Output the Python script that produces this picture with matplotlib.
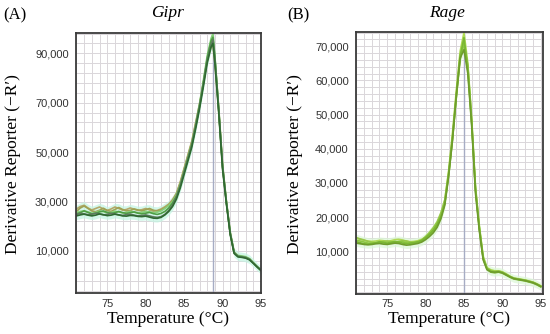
import matplotlib
matplotlib.use("Agg")
import matplotlib.pyplot as plt
import numpy as np
from matplotlib.ticker import MultipleLocator, FixedLocator, FuncFormatter

# ---------------- data (values in thousands of -R') ----------------
temp_a = [71, 71.5, 72, 72.5, 73, 73.5, 74, 74.5, 75, 75.5, 76, 76.5, 77, 77.5,
          78, 78.5, 79, 79.5, 80, 80.5, 81, 81.5, 82, 82.5, 83, 83.5, 84, 84.5,
          85, 85.5, 86, 86.5, 87, 87.5, 88, 88.5, 88.75, 89, 89.5, 90, 90.5, 91,
          91.5, 92, 92.5, 93, 93.5, 94, 94.5, 95]

gipr_1 = [24.2, 24.6, 24.9, 24.5, 24.2, 24.5, 25.0, 24.7, 24.3, 24.5, 24.9, 24.6, 24.2, 24.1,
          24.4, 24.3, 24.0, 23.9, 24.1, 23.7, 23.3, 23.2, 23.6, 24.6, 26.0, 28.0, 31.0, 35.5,
          41.0, 46.5, 52.0, 59.5, 67.5, 76.5, 86.0, 92.5, 94.0, 86.0, 66.0, 43.0, 29.0, 16.5,
          9.0, 7.6, 7.4, 7.1, 6.4, 5.0, 3.5, 2.1]
gipr_2 = [24.8, 25.2, 25.0, 24.7, 24.9, 25.3, 25.0, 24.6, 24.8, 25.2, 25.0, 24.6, 24.4, 24.7,
          24.9, 24.5, 24.2, 24.3, 24.6, 24.2, 23.8, 23.6, 23.9, 24.8, 26.4, 28.6, 31.8, 36.5,
          42.0, 47.5, 53.0, 60.5, 68.5, 77.5, 87.0, 93.5, 95.5, 87.5, 67.0, 44.0, 29.5, 17.0,
          9.3, 7.8, 7.6, 7.3, 6.6, 5.1, 3.6, 2.2]
gipr_3 = [26.0, 27.4, 28.2, 27.2, 26.2, 25.9, 26.5, 27.3, 26.4, 26.0, 26.8, 27.6, 26.8, 26.2,
          26.4, 27.0, 26.6, 26.2, 26.7, 27.2, 26.5, 26.2, 26.6, 27.4, 28.6, 30.4, 33.0, 37.5,
          43.0, 48.5, 54.0, 61.5, 69.0, 78.0, 87.5, 94.0, 96.0, 88.0, 68.0, 45.0, 30.0, 17.5,
          9.6, 8.0, 7.8, 7.5, 6.8, 5.2, 3.6, 2.2]
gipr_4 = [25.5, 26.0, 26.3, 25.8, 25.3, 25.6, 26.2, 25.9, 25.4, 25.6, 26.1, 25.8, 25.4, 25.6,
          26.0, 25.7, 25.4, 25.6, 26.0, 25.8, 25.5, 25.7, 26.2, 27.2, 28.4, 30.0, 32.6, 37.0,
          42.5, 48.0, 53.5, 61.0, 69.5, 79.0, 89.0, 96.0, 98.0, 89.0, 67.5, 44.5, 30.0, 17.2,
          9.5, 8.2, 8.0, 7.7, 6.9, 5.3, 3.7, 2.3]
gipr_5 = [25.0, 25.5, 26.2, 25.6, 25.0, 25.2, 25.8, 26.2, 25.6, 25.2, 25.5, 26.0, 25.5, 25.2,
          25.5, 25.8, 25.3, 25.0, 25.3, 25.6, 25.1, 24.8, 25.2, 26.0, 27.4, 29.4, 32.2, 36.5,
          42.0, 47.5, 53.0, 60.5, 68.5, 78.0, 88.0, 95.0, 96.5, 88.5, 67.0, 44.0, 29.5, 17.0,
          9.3, 7.9, 7.7, 7.4, 6.7, 5.1, 3.6, 2.2]
gipr_6 = [27.0, 28.0, 28.5, 27.4, 26.6, 27.2, 27.8, 27.0, 26.4, 27.0, 27.8, 27.2, 26.5, 26.8,
          27.4, 26.9, 26.4, 26.7, 27.2, 26.6, 26.1, 26.4, 27.0, 27.9, 29.0, 30.8, 33.4, 38.0,
          43.5, 49.0, 54.5, 62.0, 69.5, 78.0, 87.0, 92.5, 93.0, 86.0, 66.5, 44.0, 29.5, 17.0,
          9.4, 7.9, 7.7, 7.4, 6.7, 5.1, 3.6, 2.2]

temp_b = [71, 71.5, 72, 72.5, 73, 73.5, 74, 74.5, 75, 75.5, 76, 76.5, 77, 77.5,
          78, 78.5, 79, 79.5, 80, 80.5, 81, 81.5, 82, 82.5, 83, 83.5, 84, 84.5,
          85, 85.5, 86, 86.5, 87, 87.5, 88, 88.5, 89, 89.5, 90, 90.5, 91, 91.5,
          92, 92.5, 93, 93.5, 94, 94.5, 95]

rage_1 = [13.2, 13.0, 12.7, 12.4, 12.3, 12.4, 12.6, 12.5, 12.3, 12.4, 12.7, 12.9, 12.8, 12.5,
          12.3, 12.4, 12.6, 13.0, 13.8, 14.8, 15.9, 17.6, 20.0, 24.0, 32.5, 43.0, 55.0, 66.0,
          71.0, 64.0, 48.0, 28.0, 17.0, 8.0, 5.0, 4.3, 4.0, 4.1, 3.8, 3.2, 2.6, 2.1,
          1.9, 1.7, 1.5, 1.2, 0.9, 0.4, -0.2]
rage_2 = [12.4, 12.2, 12.0, 11.9, 12.0, 12.2, 12.3, 12.1, 12.0, 12.2, 12.4, 12.3, 12.0, 11.8,
          11.9, 12.1, 12.3, 12.7, 13.4, 14.3, 15.4, 17.0, 19.5, 23.5, 32.0, 42.5, 55.5, 66.5,
          69.0, 62.0, 47.0, 27.0, 16.0, 7.5, 4.6, 4.0, 3.9, 4.0, 3.7, 3.1, 2.5, 2.0,
          1.8, 1.6, 1.4, 1.1, 0.8, 0.3, -0.3]
rage_3 = [13.8, 13.5, 13.2, 13.0, 12.9, 13.0, 13.2, 13.1, 12.9, 13.1, 13.4, 13.5, 13.3, 13.0,
          12.8, 12.9, 13.1, 13.5, 14.2, 15.2, 16.4, 18.2, 20.8, 25.0, 33.5, 44.5, 57.0, 68.5,
          74.0, 65.0, 49.0, 29.0, 17.5, 8.5, 5.2, 4.6, 4.3, 4.3, 4.0, 3.4, 2.7, 2.2,
          2.0, 1.8, 1.6, 1.3, 1.0, 0.5, -0.1]
rage_4 = [12.8, 12.5, 12.2, 12.1, 12.2, 12.5, 12.8, 12.6, 12.4, 12.6, 12.9, 12.7, 12.4, 12.2,
          12.4, 12.6, 12.8, 13.2, 14.0, 15.0, 16.2, 17.9, 20.3, 24.0, 32.0, 42.5, 55.0, 67.0,
          72.5, 63.0, 47.5, 28.0, 16.5, 7.8, 4.8, 3.9, 3.7, 3.9, 3.6, 3.0, 2.4, 1.9,
          1.7, 1.5, 1.3, 1.0, 0.7, 0.2, -0.4]
rage_5 = [14.0, 13.6, 13.3, 12.9, 12.6, 12.5, 12.6, 12.9, 13.0, 12.8, 12.6, 12.8, 13.1, 13.0,
          12.7, 12.5, 12.7, 13.3, 14.3, 15.5, 16.9, 18.6, 21.3, 25.0, 33.0, 43.5, 56.0, 67.5,
          70.5, 64.5, 48.5, 28.5, 17.0, 8.2, 5.0, 4.3, 4.1, 4.2, 3.9, 3.3, 2.6, 2.1,
          1.9, 1.7, 1.5, 1.2, 0.9, 0.4, -0.2]

tm_a = 88.7
tm_b = 85.0
xticks = [75, 80, 85, 90, 95]
yticks_a = [10000, 30000, 50000, 70000, 90000]
yticks_b = [10000, 20000, 30000, 40000, 50000, 60000, 70000]

# ---------------- style ----------------
serif = ['Liberation Serif', 'DejaVu Serif']
sans = ['Liberation Sans', 'DejaVu Sans']

fig = plt.figure(figsize=(5.5, 3.34), dpi=100)
fig.patch.set_facecolor('white')

ax_a = fig.add_axes([0.1376, 0.1228, 0.337, 0.779])
ax_b = fig.add_axes([0.6467, 0.1207, 0.340, 0.784])

def style_axis(ax, xlim, ylim, yticks, ygrid_step, ygrid_start):
    ax.set_xlim(*xlim)
    ax.set_ylim(*ylim)
    ax.xaxis.set_major_locator(FixedLocator(xticks))
    ax.yaxis.set_major_locator(FixedLocator(yticks))
    ax.xaxis.set_minor_locator(MultipleLocator(1))
    ax.yaxis.set_minor_locator(MultipleLocator(ygrid_step, offset=ygrid_start))
    ax.yaxis.set_major_formatter(FuncFormatter(lambda v, p: f"{int(round(v)):,}"))
    ax.grid(which='both', color='#dad6da', linewidth=0.7, zorder=0)
    ax.set_axisbelow(True)
    ax.tick_params(which='both', length=0)
    ax.tick_params(axis='y', pad=5, labelsize=8, labelcolor='#333333')
    ax.tick_params(axis='x', pad=4, labelsize=8, labelcolor='#333333')
    for lab in ax.get_xticklabels() + ax.get_yticklabels():
        lab.set_family(sans)
    for s in ax.spines.values():
        s.set_color('#3a3a3a')
        s.set_linewidth(1.3)

style_axis(ax_a, (70.9, 95.0), (-7000, 98300), yticks_a, 4000, 2000)
style_axis(ax_b, (70.9, 95.25), (-2400, 74200), yticks_b, 2000, 0)

# Panel A
curves_a = [(gipr_6, '#b4a86a'), (gipr_3, '#9ea253'), (gipr_4, '#86d07a'),
            (gipr_5, '#4f9e45'), (gipr_2, '#5f7a60'), (gipr_1, '#2f6a31')]
arr_a = np.array([c for c, _ in curves_a]) * 1000
ax_a.fill_between(temp_a, arr_a.min(axis=0) - 1500, arr_a.max(axis=0) + 1500,
                  color='#c2f5e2', alpha=0.7, linewidth=0, zorder=1)
ax_a.axvline(tm_a, color='#a6acc4', linewidth=1.0, zorder=1.5)
for vals, col in curves_a:
    ax_a.plot(temp_a, np.array(vals) * 1000, color=col, linewidth=1.2, zorder=2)

# Panel B
curves_b = [(rage_3, '#b0da55'), (rage_5, '#98c84a'), (rage_1, '#8cc63f'),
            (rage_4, '#7bb833'), (rage_2, '#6e9c2c')]
arr_b = np.array([c for c, _ in curves_b]) * 1000
ax_b.fill_between(temp_b, arr_b.min(axis=0) - 1000, arr_b.max(axis=0) + 1000,
                  color='#dcf7d6', alpha=0.7, linewidth=0, zorder=1)
ax_b.axvline(tm_b, color='#a6acc4', linewidth=1.0, zorder=1.5)
for vals, col in curves_b:
    ax_b.plot(temp_b, np.array(vals) * 1000, color=col, linewidth=1.2, zorder=2)

# Texts
fig.text(3 / 550, 1 - 15 / 334, '(A)', family=serif, fontsize=12, ha='left', va='center')
fig.text(287 / 550, 1 - 15 / 334, '(B)', family=serif, fontsize=12, ha='left', va='center')
fig.text(167 / 550, 1 - 13 / 334, 'Gipr', family=serif, style='italic', fontsize=12.5, ha='center', va='center')
fig.text(447 / 550, 1 - 13 / 334, 'Rage', family=serif, style='italic', fontsize=12.5, ha='center', va='center')
for xc in (168, 449):
    fig.text(xc / 550, 1 - 319 / 334, 'Temperature (\u00b0C)', family=serif, fontsize=12.5,
             ha='center', va='center')
fig.text(13 / 550, 1 - 164 / 334, 'Derivative Reporter (\u2212R\u2032)', family=serif, fontsize=12.5,
         rotation=90, ha='center', va='center')
fig.text(295 / 550, 1 - 164 / 334, 'Derivative Reporter (\u2212R\u2032)', family=serif, fontsize=12.5,
         rotation=90, ha='center', va='center')

fig.savefig('out.png', dpi=100)
